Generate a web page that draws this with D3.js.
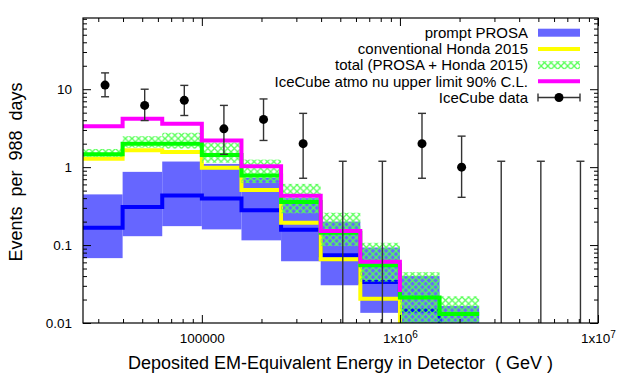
<!DOCTYPE html>
<html>
<head>
<meta charset="utf-8">
<script src="https://cdn.jsdelivr.net/npm/d3@7"></script>
<style>
  body { margin: 0; background: #fff; }
  svg { display: block; font-family: "Liberation Sans", Arial, sans-serif; }
</style>
</head>
<body>
<div id="chart"></div>
<script>
// bin edges in GeV (0.2 decade bins)
const binEdges = [25119, 39811, 63096, 100000, 158489, 251189, 398107, 630957, 1000000, 1584893, 2511886];

// prompt PROSA
const promptLine = [0.167, 0.307, 0.434, 0.397, 0.28, 0.157, 0.074, 0.0335, 0.0145];
const promptEnd = 0.001;
const promptLow = [0.068, 0.13, 0.175, 0.159, 0.115, 0.062, 0.0305, 0.0135, 0.004, 0.003];
const promptHigh = [0.447, 0.87, 1.18, 1.1, 0.73, 0.4, 0.2, 0.093, 0.04, 0.0165];

// conventional Honda 2015
const convLine = [1.28, 1.65, 1.56, 0.98, 0.51, 0.194, 0.066, 0.0205];
const convEnd = 0.001;

// total
const totalLine = [1.46, 2.0, 2.0, 1.43, 0.78, 0.356, 0.144, 0.055, 0.0212, 0.013];
const totalEnd = 0.013;
const totalLow = [1.35, 1.78, 1.73, 1.14, 0.625, 0.256, 0.097, 0.034, 0.008, 0.005];
const totalHigh = [1.71, 2.5, 2.76, 2.07, 1.25, 0.61, 0.26, 0.107, 0.045, 0.022];

// IceCube upper limit
const limitLine = [3.36, 4.17, 3.6, 2.2, 1.03, 0.43, 0.152, 0.061];
const limitEnd = 0.025;

// IceCube data
const dataE = [32465, 51453, 81548, 129245, 204838, 324648, 514528, 815480, 1292450, 2048380, 3246480, 5145280, 8154800];
const dataN = [11.3, 6.2, 7.2, 3.1, 4.1, 2.0, 0, 0, 2.0, 1.0, 0, 0, 0];
const dataLo = [8.0, 3.96, 4.6, 1.46, 2.2, 0.72, 0, 0, 0.72, 0.41, 0, 0, 0];
const dataHi = [16.2, 10.0, 11.2, 6.2, 7.5, 4.9, 1.19, 1.19, 4.9, 2.5, 1.19, 1.19, 1.19];

const xMajor = [1e5, 1e6, 1e7];
const yMajor = [0.01, 0.1, 1, 10];
const legendLabels = ["prompt PROSA", "conventional Honda 2015", "total (PROSA + Honda 2015)", "IceCube atmo nu upper limit 90% C.L.", "IceCube data"];

const width = 623, height = 374;
const margin = {left: 83, right: 25, top: 18, bottom: 51};

const svg = d3.select("#chart").append("svg")
  .attr("width", width)
  .attr("height", height);

const x = d3.scaleLog().domain([25119, 1e7]).range([margin.left, width - margin.right]);
const y = d3.scaleLog().domain([0.01, 82]).range([height - margin.bottom, margin.top]);
const yc = v => v > 0 ? y(v) : y.range()[0] + 20;

// minor ticks 2..9 per decade
const xMinor = [];
for (let e = 4; e < 7; e++) for (let m = 2; m <= 9; m++) {
  const v = m * Math.pow(10, e);
  if (v >= 25119 && v < 1e7) xMinor.push(v);
}
const yMinor = [];
for (let e = -2; e < 2; e++) for (let m = 2; m <= 9; m++) {
  const v = m * Math.pow(10, e);
  if (v < 82) yMinor.push(v);
}

const defs = svg.append("defs");
defs.append("clipPath").attr("id", "plotclip")
  .append("rect")
  .attr("x", margin.left).attr("y", margin.top)
  .attr("width", width - margin.left - margin.right)
  .attr("height", height - margin.top - margin.bottom);

const hatch = defs.append("pattern").attr("id", "hatch")
  .attr("patternUnits", "userSpaceOnUse")
  .attr("width", 6.6).attr("height", 6.6);
hatch.append("path").attr("d", "M0,0L6.6,6.6M6.6,0L0,6.6")
  .attr("stroke", "#55ff55").attr("stroke-width", 1.3);

const plot = svg.append("g").attr("clip-path", "url(#plotclip)");

// bands
function drawBand(lo, hi, fill) {
  plot.append("g").selectAll("rect")
    .data(lo.map((d, i) => ({lo: d, hi: hi[i], a: binEdges[i], b: binEdges[i + 1]})))
    .join("rect")
    .attr("x", d => x(d.a))
    .attr("width", d => x(d.b) - x(d.a))
    .attr("y", d => y(d.hi))
    .attr("height", d => yc(d.lo) - y(d.hi))
    .attr("fill", fill);
}

// step line through bin edges, last point is where the line drops to
function drawSteps(vals, end, color) {
  const pts = vals.map((v, i) => [binEdges[i], v]);
  pts.push([binEdges[vals.length], end]);
  const line = d3.line()
    .x(d => x(d[0]))
    .y(d => yc(d[1]))
    .curve(d3.curveStepAfter);
  plot.append("path")
    .attr("d", line(pts))
    .attr("fill", "none")
    .attr("stroke", color)
    .attr("stroke-width", 4);
}

drawBand(promptLow, promptHigh, "#6666ff");
drawSteps(promptLine, promptEnd, "#0000ff");
drawSteps(convLine, convEnd, "#ffff00");
drawBand(totalLow, totalHigh, "url(#hatch)");
drawSteps(totalLine, totalEnd, "#00ff00");
drawSteps(limitLine, limitEnd, "#ff00ff");

// data points with error bars
const pts = dataE.map((e, i) => ({e: e, n: dataN[i], lo: dataLo[i], hi: dataHi[i]}));
const pg = plot.append("g").attr("stroke", "#333").attr("stroke-width", 1.4);
pg.selectAll("line.bar").data(pts).join("line")
  .attr("class", "bar")
  .attr("x1", d => x(d.e)).attr("x2", d => x(d.e))
  .attr("y1", d => yc(d.lo)).attr("y2", d => y(d.hi));
pg.selectAll("line.cap").data(pts).join("line")
  .attr("class", "cap")
  .attr("x1", d => x(d.e) - 4).attr("x2", d => x(d.e) + 4)
  .attr("y1", d => y(d.hi)).attr("y2", d => y(d.hi));
pg.selectAll("line.capl").data(pts.filter(d => d.lo > 0)).join("line")
  .attr("class", "capl")
  .attr("x1", d => x(d.e) - 4).attr("x2", d => x(d.e) + 4)
  .attr("y1", d => y(d.lo)).attr("y2", d => y(d.lo));
plot.append("g").selectAll("circle").data(pts.filter(d => d.n > 0)).join("circle")
  .attr("cx", d => x(d.e)).attr("cy", d => y(d.n))
  .attr("r", 4.5).attr("fill", "#000");

// axes, ticks point inwards
const bottom = height - margin.bottom, right = width - margin.right;
svg.append("g").attr("transform", `translate(0,${bottom})`)
  .call(d3.axisBottom(x).tickValues(xMinor).tickSize(-4).tickFormat(""));
svg.append("g").attr("transform", `translate(0,${margin.top})`)
  .call(d3.axisTop(x).tickValues(xMinor).tickSize(-4).tickFormat(""));
svg.append("g").attr("transform", `translate(0,${margin.top})`)
  .call(d3.axisTop(x).tickValues(xMajor).tickSize(-8).tickFormat(""));
const xAx = svg.append("g").attr("transform", `translate(0,${bottom})`)
  .call(d3.axisBottom(x).tickValues(xMajor).tickSize(-8).tickPadding(10).tickFormat(""));
xAx.selectAll(".tick text").each(function(d) {
  const t = d3.select(this);
  if (d === 1e5) { t.text("100000"); return; }
  t.append("tspan").text("1x10");
  t.append("tspan").attr("dy", "-0.45em").attr("font-size", "10px").text(Math.round(Math.log10(d)));
});

svg.append("g").attr("transform", `translate(${margin.left},0)`)
  .call(d3.axisLeft(y).tickValues(yMinor).tickSize(-4).tickFormat(""));
svg.append("g").attr("transform", `translate(${right},0)`)
  .call(d3.axisRight(y).tickValues(yMinor).tickSize(-4).tickFormat(""));
svg.append("g").attr("transform", `translate(${right},0)`)
  .call(d3.axisRight(y).tickValues(yMajor).tickSize(-8).tickFormat(""));
svg.append("g").attr("transform", `translate(${margin.left},0)`)
  .call(d3.axisLeft(y).tickValues(yMajor).tickSize(-8).tickPadding(11).tickFormat(d => String(d)));

svg.selectAll(".domain").remove();
svg.selectAll(".tick line").attr("stroke", "#000");
svg.selectAll(".tick text").attr("font-size", "13.5px").attr("fill", "#000")
  .attr("font-family", "Liberation Sans, Arial, sans-serif");

svg.append("rect")
  .attr("x", margin.left).attr("y", margin.top)
  .attr("width", right - margin.left).attr("height", bottom - margin.top)
  .attr("fill", "none").attr("stroke", "#000").attr("stroke-width", 1.2);

// titles
svg.append("text")
  .attr("x", (margin.left + right) / 2).attr("y", 369)
  .attr("text-anchor", "middle").attr("font-size", "18px")
  .style("white-space", "pre")
  .text("Deposited EM-Equivalent Energy in Detector  ( GeV )");
svg.append("text")
  .attr("transform", "translate(22,172) rotate(-90)")
  .attr("text-anchor", "middle").attr("font-size", "18px")
  .style("white-space", "pre")
  .text("Events  per  988  days");

// legend
const lg = svg.append("g");
const rowY = i => 32.7 + i * 16.2;
lg.selectAll("text").data(legendLabels).join("text")
  .attr("x", 528).attr("y", (d, i) => rowY(i))
  .attr("dy", "0.35em").attr("text-anchor", "end")
  .attr("font-size", "15px")
  .text(d => d);
lg.append("rect").attr("x", 538).attr("y", rowY(0) - 4).attr("width", 42).attr("height", 8).attr("fill", "#6666ff");
lg.append("line").attr("x1", 538).attr("x2", 580).attr("y1", rowY(1)).attr("y2", rowY(1)).attr("stroke", "#ffff00").attr("stroke-width", 4);
lg.append("rect").attr("x", 538).attr("y", rowY(2) - 4).attr("width", 42).attr("height", 8).attr("fill", "url(#hatch)");
lg.append("line").attr("x1", 538).attr("x2", 580).attr("y1", rowY(3)).attr("y2", rowY(3)).attr("stroke", "#ff00ff").attr("stroke-width", 4);
lg.append("line").attr("x1", 538).attr("x2", 580).attr("y1", rowY(4)).attr("y2", rowY(4)).attr("stroke", "#333").attr("stroke-width", 1.4);
lg.append("line").attr("x1", 538).attr("x2", 538).attr("y1", rowY(4) - 4).attr("y2", rowY(4) + 4).attr("stroke", "#333").attr("stroke-width", 1.4);
lg.append("line").attr("x1", 580).attr("x2", 580).attr("y1", rowY(4) - 4).attr("y2", rowY(4) + 4).attr("stroke", "#333").attr("stroke-width", 1.4);
lg.append("circle").attr("cx", 559).attr("cy", rowY(4)).attr("r", 4.5).attr("fill", "#000");
</script>
</body>
</html>
